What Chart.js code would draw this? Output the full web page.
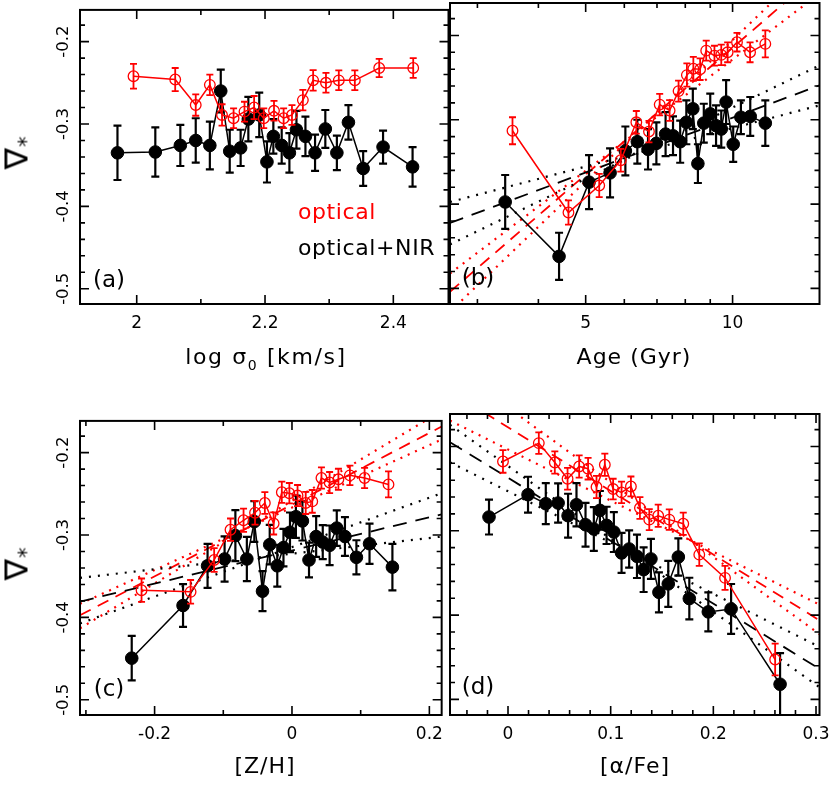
<!DOCTYPE html>
<html>
<head>
<meta charset="utf-8">
<script src="https://cdn.jsdelivr.net/npm/chart.js@4.4.1/dist/chart.umd.min.js"></script>
<style>
  body { margin: 0; width: 830px; height: 786px; background: #fff; position: relative; overflow: hidden; font-family: 'DejaVu Sans', sans-serif; }
  canvas { position: absolute; }
  .txt { position: absolute; white-space: nowrap; line-height: 1; transform: translate(-50%, -50%); color: #000; }
  .left { transform: translate(0, -50%); }
  .title { font-size: 22px; letter-spacing: 1px; }
  .tag { font-size: 23px; }
  .legend { font-size: 22px; letter-spacing: 0.6px; }
  .ylab { transform: translate(-50%, -50%) rotate(-90deg); font-size: 32px; }
  .ylab sub { font-size: 21px; vertical-align: -6px; margin-left: 1px; }
  .title sub { font-size: 14px; }
</style>
</head>
<body>
<canvas id="chartA" width="452" height="395" style="left:0;top:0"></canvas>
<canvas id="chartB" width="400" height="395" style="left:440px;top:0"></canvas>
<canvas id="chartC" width="452" height="395" style="left:0;top:411px"></canvas>
<canvas id="chartD" width="400" height="395" style="left:440px;top:411px"></canvas>

<div class="txt ylab" style="left:19px;top:153px">∇<sub>*</sub></div>
<div class="txt ylab" style="left:19px;top:564px">∇<sub>*</sub></div>
<div class="txt left legend" style="left:298px;top:212px;color:#f00">optical</div>
<div class="txt left legend" style="left:298px;top:248px">optical+NIR</div>
<div class="txt tag" style="left:109px;top:279px">(a)</div>
<div class="txt tag" style="left:478px;top:277px">(b)</div>
<div class="txt tag" style="left:109px;top:688px">(c)</div>
<div class="txt tag" style="left:478px;top:686px">(d)</div>
<div class="txt title" style="left:266px;top:359px;letter-spacing:1.6px">log σ<sub>0</sub> [km/s]</div>
<div class="txt title" style="left:634px;top:357px">Age (Gyr)</div>
<div class="txt title" style="left:265px;top:766px">[Z/H]</div>
<div class="txt title" style="left:635px;top:766px">[α/Fe]</div>

<script>
// Axis limits and ticks
const yMin = -0.5185;
const yMax = -0.1615;
const yTicks = [-0.5, -0.48, -0.46, -0.44, -0.42, -0.4, -0.38, -0.36, -0.34, -0.32, -0.3, -0.28, -0.26, -0.24, -0.22, -0.2, -0.18];
const yLabels = [-0.5, -0.4, -0.3, -0.2];

const aRange = [1.9116, 2.486];
const aTicks = [2, 2.1, 2.2, 2.3, 2.4];
const aLabels = [2, 2.2, 2.4];
const bRange = [2.636, 15.07];
const bTicks = [3, 4, 5, 6, 7, 8, 9, 10];
const bLabels = [5, 10];
const cRange = [-0.3086, 0.2179];
const cTicks = [-0.3, -0.2, -0.1, 0, 0.1, 0.2];
const cLabels = [-0.2, 0, 0.2];
const dRange = [-0.0565, 0.3034];
const dTicks = [-0.04, -0.02, 0, 0.02, 0.04, 0.06, 0.08, 0.1, 0.12, 0.14, 0.16, 0.18, 0.2, 0.22, 0.24, 0.26, 0.28, 0.3];
const dLabels = [0, 0.1, 0.2, 0.3];

// Panel (a): log sigma0
const aXBlack = [1.970, 2.029, 2.068, 2.092, 2.114, 2.131, 2.145, 2.162, 2.174, 2.191, 2.203, 2.213, 2.226, 2.238, 2.249, 2.263, 2.278, 2.294, 2.312, 2.330, 2.353, 2.384, 2.430];
const aYBlack = [-0.335, -0.334, -0.326, -0.320, -0.326, -0.260, -0.333, -0.329, -0.294, -0.289, -0.346, -0.315, -0.326, -0.335, -0.307, -0.315, -0.335, -0.306, -0.335, -0.298, -0.354, -0.328, -0.352];
const aEBlack = [0.033, 0.030, 0.025, 0.027, 0.029, 0.026, 0.026, 0.022, 0.027, 0.027, 0.025, 0.021, 0.022, 0.024, 0.023, 0.024, 0.022, 0.023, 0.021, 0.021, 0.021, 0.020, 0.024];
const aXRed = [1.995, 2.060, 2.092, 2.114, 2.133, 2.151, 2.168, 2.183, 2.198, 2.214, 2.229, 2.242, 2.259, 2.275, 2.295, 2.315, 2.340, 2.378, 2.431];
const aYRed = [-0.242, -0.246, -0.277, -0.2525, -0.289, -0.293, -0.285, -0.280, -0.293, -0.284, -0.293, -0.289, -0.271, -0.247, -0.250, -0.247, -0.247, -0.232, -0.232];
const aERed = [0.015, 0.014, 0.013, 0.0125, 0.013, 0.012, 0.012, 0.014, 0.012, 0.012, 0.012, 0.012, 0.0125, 0.0125, 0.012, 0.012, 0.012, 0.011, 0.012];

// Panel (b): age
const bXBlack = [3.42, 4.41, 5.08, 5.61, 6.03, 6.38, 6.71, 6.98, 7.29, 7.55, 7.81, 8.04, 8.29, 8.49, 8.73, 9.00, 9.25, 9.48, 9.70, 10.03, 10.40, 10.87, 11.67];
const bYBlack = [-0.3975, -0.462, -0.374, -0.363, -0.337, -0.326, -0.335, -0.328, -0.317, -0.319, -0.326, -0.303, -0.287, -0.352, -0.304, -0.293, -0.307, -0.311, -0.279, -0.329, -0.297, -0.296, -0.304];
const bEBlack = [0.032, 0.028, 0.032, 0.029, 0.029, 0.026, 0.024, 0.025, 0.026, 0.023, 0.025, 0.026, 0.024, 0.023, 0.023, 0.024, 0.024, 0.022, 0.026, 0.021, 0.020, 0.023, 0.027];
const bXRed = [3.54, 4.61, 5.33, 5.90, 6.35, 6.74, 7.09, 7.43, 7.75, 8.06, 8.31, 8.58, 8.83, 9.18, 9.48, 9.77, 10.21, 10.86, 11.67];
const bYRed = [-0.313, -0.410, -0.378, -0.348, -0.303, -0.314, -0.282, -0.289, -0.266, -0.247, -0.2395, -0.240, -0.218, -0.224, -0.223, -0.220, -0.208, -0.220, -0.210];
const bERed = [0.016, 0.0144, 0.0138, 0.0136, 0.0134, 0.0128, 0.0128, 0.0122, 0.0124, 0.0138, 0.0142, 0.0128, 0.0118, 0.0118, 0.0122, 0.0118, 0.011, 0.0118, 0.016];
const bFitX = [2.636, 15.07];
const bBlackFit = [-0.4224, -0.2592];
const bBlackLoA = [-0.3975, -0.2829];
const bBlackLoB = [-0.4479, -0.2355];
const bRedFit = [-0.504, -0.1255];
const bRedLoA = [-0.4823, -0.1504];
const bRedLoB = [-0.5276, -0.1065];

// Panel (c): [Z/H]
const cXBlack = [-0.2333, -0.1586, -0.1229, -0.0981, -0.0824, -0.0657, -0.0548, -0.0429, -0.0324, -0.0214, -0.0124, -0.0029, 0.0057, 0.0152, 0.0248, 0.0352, 0.0448, 0.0548, 0.0652, 0.0771, 0.0938, 0.1129, 0.1462];
const cYBlack = [-0.4495, -0.3856, -0.3374, -0.3291, -0.3007, -0.3291, -0.2837, -0.3682, -0.3117, -0.3374, -0.3153, -0.2967, -0.2778, -0.283, -0.3303, -0.3019, -0.3086, -0.3125, -0.2916, -0.3019, -0.3271, -0.3106, -0.339];
const cEBlack = [0.027, 0.026, 0.0267, 0.0274, 0.031, 0.0269, 0.0247, 0.0243, 0.0239, 0.0253, 0.0227, 0.024, 0.0257, 0.0237, 0.0211, 0.0247, 0.0207, 0.024, 0.0215, 0.0235, 0.0207, 0.0245, 0.0282];
const cXRed = [-0.219, -0.1476, -0.1133, -0.0895, -0.0705, -0.0538, -0.0395, -0.0267, -0.0148, -0.0038, 0.0081, 0.02, 0.0295, 0.0429, 0.0548, 0.0676, 0.0843, 0.1057, 0.1405];
const cYRed = [-0.367, -0.369, -0.3303, -0.2936, -0.2821, -0.273, -0.2611, -0.286, -0.2481, -0.2493, -0.2521, -0.2611, -0.2592, -0.2308, -0.2363, -0.2324, -0.2276, -0.2308, -0.2386];
const cERed = [0.0142, 0.0144, 0.0144, 0.0136, 0.0142, 0.0144, 0.0132, 0.0134, 0.0128, 0.0124, 0.0128, 0.0134, 0.0138, 0.0128, 0.0128, 0.0128, 0.0118, 0.0122, 0.0158];
const cFitX = [-0.3086, 0.2179];
const cBlackFit = [-0.3808, -0.275];
const cBlackLoA = [-0.352, -0.3019];
const cBlackLoB = [-0.4073, -0.2493];
const cRedFit = [-0.3974, -0.1683];
const cRedLoA = [-0.3836, -0.1841];
const cRedLoB = [-0.4133, -0.1493];

// Panel (d): [alpha/Fe]
const dXBlack = [-0.0185, 0.0195, 0.0368, 0.0488, 0.0585, 0.0667, 0.0755, 0.0836, 0.0895, 0.096, 0.1031, 0.1106, 0.118, 0.1256, 0.1321, 0.1392, 0.147, 0.1561, 0.1659, 0.1766, 0.1951, 0.2173, 0.265];
const dYBlack = [-0.2837, -0.2572, -0.2679, -0.2671, -0.2821, -0.2691, -0.2928, -0.2979, -0.2758, -0.2936, -0.3015, -0.3263, -0.3216, -0.3303, -0.3461, -0.3334, -0.373, -0.363, -0.3311, -0.3804, -0.3962, -0.3927, -0.482];
const dEBlack = [0.0207, 0.0213, 0.0243, 0.0233, 0.026, 0.0257, 0.026, 0.026, 0.023, 0.0221, 0.0237, 0.0237, 0.0221, 0.0257, 0.0265, 0.0237, 0.0237, 0.0273, 0.0221, 0.0247, 0.0231, 0.0296, 0.037];
const dXRed = [-0.0049, 0.03, 0.0456, 0.058, 0.0693, 0.078, 0.0862, 0.0943, 0.1024, 0.1106, 0.1197, 0.1285, 0.1376, 0.1463, 0.1571, 0.1707, 0.1863, 0.2114, 0.2602];
const dYRed = [-0.2178, -0.196, -0.219, -0.2383, -0.2237, -0.2264, -0.2481, -0.2217, -0.2505, -0.2545, -0.2474, -0.273, -0.2868, -0.2821, -0.2868, -0.2916, -0.3283, -0.3559, -0.4527];
const dERed = [0.0134, 0.0128, 0.0132, 0.0128, 0.0132, 0.0128, 0.0132, 0.0132, 0.0122, 0.0128, 0.0118, 0.0128, 0.0124, 0.0132, 0.0122, 0.0132, 0.0134, 0.0142, 0.0188];
const dFitX = [-0.0565, 0.3034];
const dBlackFit = [-0.195, -0.4637];
const dBlackLoA = [-0.1743, -0.4855];
const dBlackLoB = [-0.2188, -0.4377];
const dRedFit = [-0.1346, -0.4062];
const dRedLoA = [-0.1693, -0.3876];
const dRedLoB = [-0.1039, -0.4226];

Chart.defaults.font.family = "'DejaVu Sans', sans-serif";
Chart.defaults.color = '#000';

// Plugins
const errorBars = {
  id: 'errorBars',
  beforeDatasetDraw(chart, args) {
    const ds = chart.data.datasets[args.index];
    if (!ds.err) return;
    const { ctx, chartArea: a, scales } = chart;
    ctx.save();
    ctx.beginPath();
    ctx.rect(a.left, a.top, a.right - a.left, a.bottom - a.top);
    ctx.clip();
    ctx.strokeStyle = ds.borderColor;
    ctx.lineWidth = ds.errWidth;
    ds.data.forEach((p, i) => {
      const x = scales.x.getPixelForValue(p.x);
      const top = scales.y.getPixelForValue(p.y + ds.err[i]);
      const bot = scales.y.getPixelForValue(p.y - ds.err[i]);
      ctx.beginPath();
      ctx.moveTo(x, top); ctx.lineTo(x, bot);
      ctx.moveTo(x - ds.cap, top); ctx.lineTo(x + ds.cap, top);
      ctx.moveTo(x - ds.cap, bot); ctx.lineTo(x + ds.cap, bot);
      ctx.stroke();
    });
    ctx.restore();
  }
};

const frame = {
  id: 'frame',
  afterDatasetsDraw(chart, args, opts) {
    const { ctx, chartArea: a, scales } = chart;
    ctx.save();
    ctx.strokeStyle = '#000';
    ctx.lineWidth = 1.6;
    ctx.beginPath();
    scales.x.ticks.forEach(t => {
      const x = scales.x.getPixelForValue(t.value);
      const len = opts.xMajor.includes(t.value) ? 9 : 5;
      ctx.moveTo(x, a.bottom); ctx.lineTo(x, a.bottom - len);
      ctx.moveTo(x, a.top); ctx.lineTo(x, a.top + len);
    });
    scales.y.ticks.forEach(t => {
      const y = scales.y.getPixelForValue(t.value);
      const len = yLabels.includes(t.value) ? 9 : 5;
      ctx.moveTo(a.left, y); ctx.lineTo(a.left + len, y);
      ctx.moveTo(a.right, y); ctx.lineTo(a.right - len, y);
    });
    ctx.stroke();
    ctx.lineWidth = 2;
    ctx.strokeRect(a.left, a.top, a.right - a.left, a.bottom - a.top);
    ctx.restore();
  }
};

const toPoints = (xs, ys) => xs.map((x, i) => ({ x: x, y: ys[i] }));

const fmt = (v) => String(v);

const seriesSets = (xRed, yRed, eRed, xBlack, yBlack, eBlack) => [
  {
    label: 'optical', data: toPoints(xRed, yRed), err: eRed, cap: 3.5, errWidth: 1.8,
    showLine: true, borderColor: '#ff0000', borderWidth: 1.5,
    pointRadius: 5.3, pointBorderWidth: 1.3, pointBorderColor: '#ff0000', pointBackgroundColor: 'rgba(0,0,0,0)',
    order: 0
  },
  {
    label: 'optical+NIR', data: toPoints(xBlack, yBlack), err: eBlack, cap: 4, errWidth: 2.2,
    showLine: true, borderColor: '#000', borderWidth: 1.5,
    pointRadius: 6.3, pointBorderWidth: 1, pointBorderColor: '#000', pointBackgroundColor: '#000',
    order: 1
  }
];

const fitLine = (xs, ys, color, dash, width) => ({
  data: toPoints(xs, ys), showLine: true, borderColor: color, borderWidth: width,
  borderDash: dash, pointRadius: 0, order: 2, clip: 0
});

const fitSets = (xs, blk, blkA, blkB, red, redA, redB) => [
  fitLine(xs, blk, '#000', [14, 9], 1.8),
  fitLine(xs, blkA, '#000', [2, 7], 2.2),
  fitLine(xs, blkB, '#000', [2, 7], 2.2),
  fitLine(xs, red, '#ff0000', [12, 8], 1.8),
  fitLine(xs, redA, '#ff0000', [2, 6], 2.2),
  fitLine(xs, redB, '#ff0000', [2, 6], 2.2)
];

const buildPanel = (canvasId, xType, xRange, xTicks, xLabels, showY, datasets) => {
  const yWidth = showY ? 80 : 10;
  const canvas = document.getElementById(canvasId);
  const rightPad = canvas.width - yWidth - (showY ? 368.5 : 369.5);
  return new Chart(canvas, {
    type: 'scatter',
    data: { datasets: datasets },
    options: {
      responsive: false,
      animation: false,
      events: [],
      layout: { autoPadding: false, padding: { left: 0, top: 3, right: rightPad, bottom: 0 } },
      plugins: {
        legend: { display: false },
        tooltip: { enabled: false },
        frame: { xMajor: xLabels }
      },
      scales: {
        x: {
          type: xType,
          min: xRange[0],
          max: xRange[1],
          afterBuildTicks: (s) => { s.ticks = xTicks.map(v => ({ value: v })); },
          afterFit: (s) => { s.height = canvas.height - 3 - 301; },
          grid: { display: false, drawTicks: false, tickLength: 0 },
          border: { display: false },
          ticks: {
            autoSkip: false,
            maxRotation: 0,
            minRotation: 0,
            padding: 9,
            font: { size: 17 },
            callback: (v) => xLabels.includes(v) ? fmt(v) : ''
          }
        },
        y: {
          type: 'linear',
          min: yMin,
          max: yMax,
          afterBuildTicks: (s) => { s.ticks = yTicks.map(v => ({ value: v })); },
          afterFit: (s) => { s.width = yWidth; },
          grid: { display: false, drawTicks: false, tickLength: 0 },
          border: { display: false },
          ticks: {
            display: showY,
            autoSkip: false,
            minRotation: 90,
            maxRotation: 90,
            crossAlign: 'center',
            padding: 0,
            font: { size: 16.5 },
            callback: (v) => yLabels.includes(v) ? fmt(v) : ''
          }
        }
      }
    },
    plugins: [errorBars, frame]
  });
};

buildPanel('chartA', 'linear', aRange, aTicks, aLabels, true,
  seriesSets(aXRed, aYRed, aERed, aXBlack, aYBlack, aEBlack));
buildPanel('chartB', 'logarithmic', bRange, bTicks, bLabels, false,
  seriesSets(bXRed, bYRed, bERed, bXBlack, bYBlack, bEBlack)
    .concat(fitSets(bFitX, bBlackFit, bBlackLoA, bBlackLoB, bRedFit, bRedLoA, bRedLoB)));
buildPanel('chartC', 'linear', cRange, cTicks, cLabels, true,
  seriesSets(cXRed, cYRed, cERed, cXBlack, cYBlack, cEBlack)
    .concat(fitSets(cFitX, cBlackFit, cBlackLoA, cBlackLoB, cRedFit, cRedLoA, cRedLoB)));
buildPanel('chartD', 'linear', dRange, dTicks, dLabels, false,
  seriesSets(dXRed, dYRed, dERed, dXBlack, dYBlack, dEBlack)
    .concat(fitSets(dFitX, dBlackFit, dBlackLoA, dBlackLoB, dRedFit, dRedLoA, dRedLoB)));
</script>
</body>
</html>
